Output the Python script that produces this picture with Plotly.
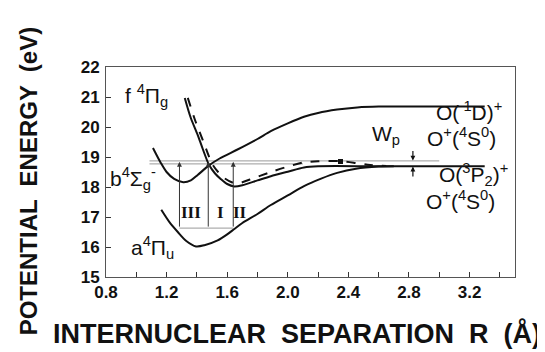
import plotly.graph_objects as go

# ---- data ----
a_x = [1.165, 1.22, 1.274, 1.33, 1.394, 1.45, 1.537, 1.6, 1.647, 1.7, 1.8, 1.888, 2.0, 2.107, 2.22, 2.326, 2.45, 2.6, 2.7]
a_y = [17.24, 16.82, 16.5, 16.2, 16.02, 16.06, 16.22, 16.42, 16.6, 16.8, 17.1, 17.4, 17.72, 18.03, 18.28, 18.47, 18.61, 18.68, 18.69]

b_x = [1.11, 1.16, 1.2, 1.25, 1.31, 1.36, 1.405, 1.48, 1.55, 1.668, 1.8, 1.888, 2.0, 2.107, 2.2, 2.326, 2.458, 2.6, 3.3]
b_y = [19.3, 18.82, 18.5, 18.27, 18.16, 18.22, 18.4, 18.72, 18.95, 19.25, 19.6, 19.86, 20.12, 20.34, 20.47, 20.58, 20.65, 20.68, 20.68]

f_x = [1.32, 1.36, 1.405, 1.44, 1.48, 1.52, 1.557, 1.6, 1.647, 1.7, 1.8, 1.888, 2.0, 2.107, 2.2, 2.6, 3.3]
f_y = [20.97, 20.3, 19.74, 19.25, 18.74, 18.45, 18.27, 18.1, 18.02, 18.06, 18.22, 18.36, 18.51, 18.65, 18.69, 18.69, 18.69]

fd_x = [1.34, 1.39, 1.44, 1.5, 1.54, 1.58, 1.63, 1.67, 1.75, 1.888, 2.0, 2.107, 2.2, 2.348, 2.45, 2.545, 2.65]
fd_y = [20.97, 20.2, 19.55, 18.78, 18.5, 18.3, 18.16, 18.12, 18.25, 18.5, 18.68, 18.82, 18.86, 18.86, 18.8, 18.73, 18.7]

level_upper = 18.87
level_lower = 18.77
level_upper_x = [1.087, 3.0]
level_lower_x = [1.087, 2.1]
base_level = 16.63
transition_x = [1.285, 1.475, 1.64]
transition_labels = ["III", "I", "II"]
transition_label_x = [1.36, 1.553, 1.685]
wp_x = 2.826
wp_top = [19.25, 18.88]
wp_bot = [18.3, 18.68]

x_ticks = [0.8, 1.2, 1.6, 2.0, 2.4, 2.8, 3.2]
x_ticktext = ["0.8", "1.2", "1.6", "2.0", "2.4", "2.8", "3.2"]
y_ticks = [15, 16, 17, 18, 19, 20, 21, 22]

BLACK = "#111111"
GRAY = "#999999"
FONT = "Liberation Sans"

fig = go.Figure()

# thin reference levels
fig.add_trace(go.Scatter(x=level_upper_x, y=[level_upper] * 2, mode="lines",
                         line=dict(color=GRAY, width=1), hoverinfo="skip"))
fig.add_trace(go.Scatter(x=level_lower_x, y=[level_lower] * 2, mode="lines",
                         line=dict(color=GRAY, width=1), hoverinfo="skip"))
fig.add_trace(go.Scatter(x=[transition_x[0], transition_x[-1]], y=[base_level] * 2, mode="lines",
                         line=dict(color=GRAY, width=1), hoverinfo="skip"))

# potential curves
for xs, ys, dash in [(a_x, a_y, "solid"), (b_x, b_y, "solid"), (f_x, f_y, "solid"), (fd_x, fd_y, "dash")]:
    fig.add_trace(go.Scatter(x=xs, y=ys, mode="lines",
                             line=dict(color=BLACK, width=2, dash=dash, shape="spline", smoothing=0.8),
                             hoverinfo="skip"))

fig.add_trace(go.Scatter(x=[2.348], y=[18.85], mode="markers",
                         marker=dict(symbol="square", size=5, color=BLACK), hoverinfo="skip"))

annotations = []
# transition arrows
for tx in transition_x:
    annotations.append(dict(x=tx, y=level_upper - 0.03, ax=tx, ay=base_level, xref="x", yref="y",
                            axref="x", ayref="y", showarrow=True, arrowhead=2, arrowsize=1,
                            arrowwidth=1, arrowcolor="#333", text=""))
for lab, lx in zip(transition_labels, transition_label_x):
    annotations.append(dict(x=lx, y=17.15, xref="x", yref="y", text=lab, showarrow=False,
                            font=dict(family="Liberation Serif", size=17, color=BLACK, weight="bold")))
# Wp arrows
annotations.append(dict(x=wp_x, y=wp_top[1], ax=wp_x, ay=wp_top[0], xref="x", yref="y", axref="x", ayref="y",
                        showarrow=True, arrowhead=2, arrowsize=0.8, arrowwidth=1.2, arrowcolor=BLACK, text=""))
annotations.append(dict(x=wp_x, y=wp_bot[1], ax=wp_x, ay=wp_bot[0], xref="x", yref="y", axref="x", ayref="y",
                        showarrow=True, arrowhead=2, arrowsize=0.8, arrowwidth=1.2, arrowcolor=BLACK, text=""))

lab_font = dict(family=FONT, size=21, color=BLACK)
text_labels = [
    (1.07, 21.05, "f <sup>4</sup>Π<sub>g</sub>", "center"),
    (0.98, 18.3, "b<sup>4</sup>Σ<sub>g</sub><sup>-</sup>", "center"),
    (1.105, 16.0, "a<sup>4</sup>Π<sub>u</sub>", "center"),
    (2.65, 19.72, "W<sub>p</sub>", "center"),
    (3.43, 20.52, "O(<sup> 1</sup>D)<sup>+</sup>", "right"),
    (3.39, 19.68, "O<sup>+</sup>(<sup>4</sup>S<sup>0</sup>)", "right"),
    (3.47, 18.42, "O(<sup>3</sup>P<sub>2</sub>)<sup>+</sup>", "right"),
    (3.38, 17.58, "O<sup>+</sup>(<sup>4</sup>S<sup>0</sup>)", "right"),
]
for x, y, t, anc in text_labels:
    annotations.append(dict(x=x, y=y, xref="x", yref="y", text=t, showarrow=False,
                            xanchor=anc, font=lab_font))

# axis titles
annotations.append(dict(x=-0.19, y=0.457, xref="paper", yref="paper", text="POTENTIAL  ENERGY  (eV)",
                        textangle=-90, showarrow=False, xanchor="center", yanchor="middle",
                        font=dict(family=FONT, size=24, color=BLACK, weight="bold")))
annotations.append(dict(x=0.466, y=-0.27, xref="paper", yref="paper",
                        text="INTERNUCLEAR  SEPARATION  R  (Å)", showarrow=False,
                        xanchor="center", yanchor="middle",
                        font=dict(family=FONT, size=27, color=BLACK, weight="bold")))

tick_font = dict(family="Liberation Sans Narrow, Liberation Sans", size=17, color=BLACK, weight="bold")

fig.update_layout(
    width=545, height=352,
    margin=dict(l=98, r=38, t=59, b=83),
    paper_bgcolor="white", plot_bgcolor="white",
    showlegend=False,
    annotations=annotations,
    xaxis=dict(range=[0.8, 3.5], tickvals=x_ticks, ticktext=x_ticktext, ticks="inside", ticklen=5,
               tickcolor="#333", showgrid=False, zeroline=False, showline=True, linecolor="#555",
               linewidth=1, mirror=True, tickfont=tick_font,
               minor=dict(tick0=0.8, dtick=0.2, ticks="inside", ticklen=5, tickcolor="#333")),
    yaxis=dict(range=[15, 22], tickvals=y_ticks, ticks="inside", ticklen=5, tickcolor="#333",
               showgrid=False, zeroline=False, showline=True, linecolor="#555", linewidth=1,
               mirror=True, tickfont=tick_font, ticklabelstandoff=2),
)

fig.write_html("out.html")
